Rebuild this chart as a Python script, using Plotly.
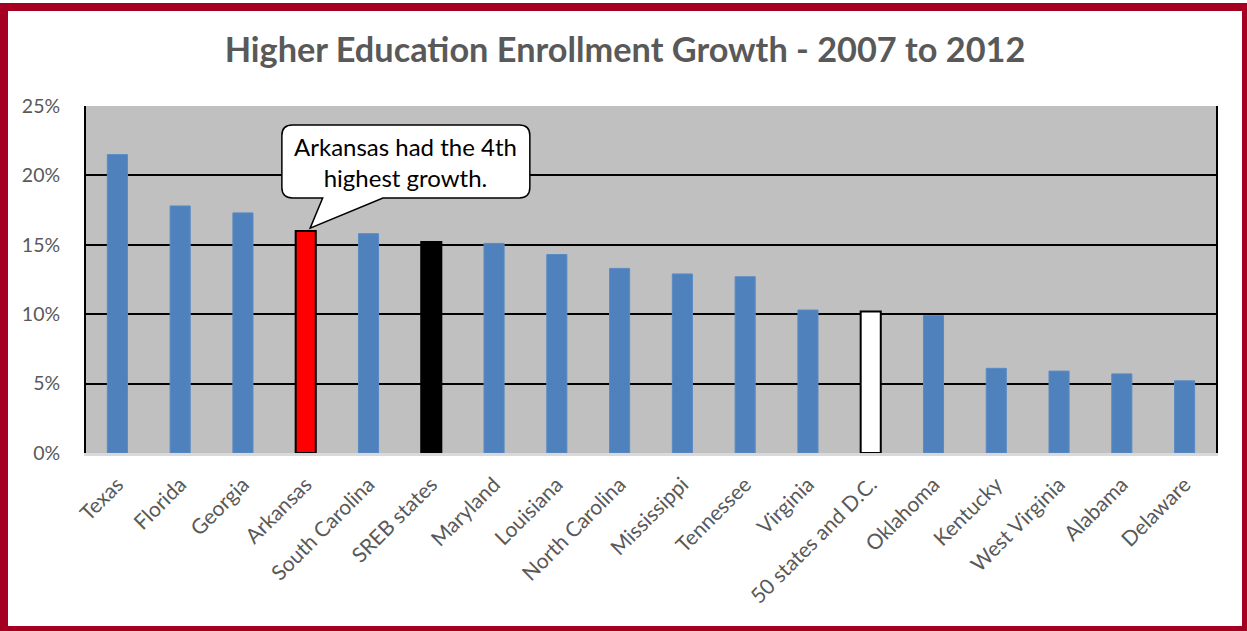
import plotly.graph_objects as go

categories = ["Texas", "Florida", "Georgia", "Arkansas", "South Carolina", "SREB states",
              "Maryland", "Louisiana", "North Carolina", "Mississippi", "Tennessee", "Virginia",
              "50 states and D.C.", "Oklahoma", "Kentucky", "West Virginia", "Alabama", "Delaware"]
growth_pct = [21.5, 17.8, 17.3, 16.0, 15.8, 15.2, 15.1, 14.3, 13.3, 12.9, 12.7, 10.3,
              10.2, 9.9, 6.1, 5.9, 5.7, 5.2]
y_ticks = [0, 5, 10, 15, 20, 25]
y_tick_labels = ["0%", "5%", "10%", "15%", "20%", "25%"]

BLUE = "#4F81BD"
fill = []
outline = []
for c in categories:
    if c == "Arkansas":
        fill.append("#FF0000"); outline.append("#000000")
    elif c == "SREB states":
        fill.append("#000000"); outline.append("#000000")
    elif c == "50 states and D.C.":
        fill.append("#FFFFFF"); outline.append("#000000")
    else:
        fill.append(BLUE); outline.append("#5B8BC4")

fig = go.Figure(go.Bar(
    x=categories, y=growth_pct,
    marker=dict(color=fill, line=dict(color=outline, width=[2 if o == "#000000" else 1 for o in outline])),
    width=0.32,
))

FONT = "Lato"
W, H = 1247, 631
ml, mr, mt, mb = 86, 31, 106, 178
pw, ph = W - ml - mr, H - mt - mb

# callout (rounded box with a tail pointing at Arkansas)
ai = categories.index("Arkansas")
tipx, tipy = ai + 0.07, growth_pct[ai] + 0.2
x0, x1, yb, yt = 2.62, 6.57, 18.37, 23.63
rx, ry = 0.17, 0.75
bl, br = 3.27, 4.23
path = (f"M {x0+rx},{yt} L {x1-rx},{yt} Q {x1},{yt} {x1},{yt-ry} L {x1},{yb+ry} "
        f"Q {x1},{yb} {x1-rx},{yb} L {br},{yb} L {tipx},{tipy} L {bl},{yb} L {x0+rx},{yb} "
        f"Q {x0},{yb} {x0},{yb+ry} L {x0},{yt-ry} Q {x0},{yt} {x0+rx},{yt} Z")

shapes = [
    dict(type="path", path=path, xref="x", yref="y", fillcolor="white",
         line=dict(color="black", width=1.5), layer="above"),
    # outer dark red frame
    dict(type="rect", xref="paper", yref="paper",
         x0=(4 - ml) / pw, x1=(1246 - ml) / pw,
         y0=(H - mb - 630) / ph, y1=(H - mb - 7) / ph,
         line=dict(color="#A50021", width=8), fillcolor="rgba(0,0,0,0)", layer="above"),
]

fig.update_layout(
    width=W, height=H,
    margin=dict(l=ml, r=mr, t=mt, b=mb),
    paper_bgcolor="white", plot_bgcolor="#C0C0C0",
    showlegend=False,
    title=dict(text="<b>Higher Education Enrollment Growth - 2007 to 2012</b>",
               x=625 / W, xref="container", xanchor="center", y=1 - 50 / H, yanchor="middle",
               font=dict(family=FONT, size=34.3, color="#595959")),
    shapes=shapes,
    annotations=[dict(x=(x0 + x1) / 2, y=(yb + yt) / 2, xref="x", yref="y",
                      text="Arkansas had the 4th<br>highest growth.", showarrow=False,
                      font=dict(family=FONT, size=24, color="black"))],
    bargap=0.68,
)
fig.update_xaxes(
    type="category", tickangle=-45, tickfont=dict(family=FONT, size=21, color="#595959"),
    showline=True, linecolor="#D9D9D9", linewidth=3, showgrid=False, ticks="",
    ticklabelstandoff=8,
)
fig.update_yaxes(
    range=[0, 25], tickvals=y_ticks, ticktext=y_tick_labels,
    tickfont=dict(family=FONT, size=19.5, color="#595959"),
    showgrid=True, gridcolor="black", gridwidth=1.5, zeroline=False,
    showline=True, mirror=True, linecolor="black", linewidth=2,
    ticks="", ticklabelstandoff=20,
)
fig.write_html("out.html")
